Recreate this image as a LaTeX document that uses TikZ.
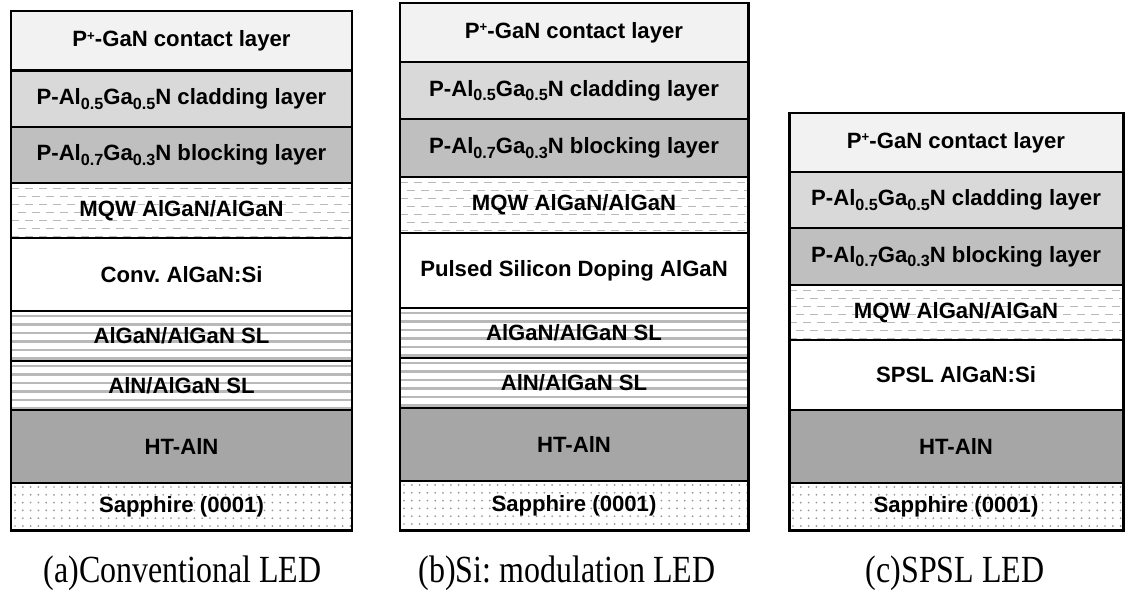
\documentclass[tikz,border=0pt]{standalone}
\usepackage{fontspec}
\setmainfont{Liberation Serif}
\setsansfont{Liberation Sans}
\frenchspacing
\definecolor{ccontact}{RGB}{242,242,242}
\definecolor{cclad}{RGB}{217,217,217}
\definecolor{cblock}{RGB}{191,191,191}
\definecolor{cht}{RGB}{166,166,166}
\definecolor{cpat}{RGB}{185,185,185}
\definecolor{cdot}{RGB}{150,150,150}
\newcommand\lsub[1]{\raisebox{-2.6pt}{\fontsize{9.2}{10}\selectfont #1}}
\newcommand\lsup[1]{\raisebox{3.6pt}{\fontsize{7.5}{8}\selectfont #1}}
\newcommand\band[5]{\fill[#5] (#1,#2) rectangle (#3,#4);}
\newcommand\mqwfill[4]{%
  \begin{scope}
    \clip (#1,#2) rectangle (#3,#4);
    \foreach \k in {0,...,7}{%
      \pgfmathsetmacro\yy{#2+5+8*\k}%
      \pgfmathsetmacro\ph{mod(\k,2)*4}%
      \draw[mqwline, dash phase=\ph pt] (#1,\yy) -- (#3,\yy);
    }
  \end{scope}}
\newcommand\slfill[4]{%
  \begin{scope}
    \clip (#1,#2) rectangle (#3,#4);
    \foreach \k in {0,...,6}{%
      \pgfmathsetmacro\yy{#2+5+8.5*\k}%
      \draw[slline] (#1,\yy) -- (#3,\yy);
    }
  \end{scope}}
\newcommand\sapphfill[4]{%
  \begin{scope}
    \clip (#1,#2) rectangle (#3,#4);
    \foreach \i in {0,...,44}{%
      \foreach \j in {0,...,6}{%
        \pgfmathsetmacro\xx{#1+4+7.8*\i}%
        \pgfmathsetmacro\yy{#2+4+7.8*\j}%
        \fill[cdot] (\xx,\yy) circle (0.55pt);
      }
    }
  \end{scope}}
\begin{document}
\begin{tikzpicture}[x=0.02cm,y=-0.02cm,
  lbl/.style={font=\sffamily\bfseries\fontsize{12.6}{15}\selectfont, inner sep=0pt},
  captxt/.style={font=\fontsize{18.2}{22}\selectfont, inner sep=0pt, anchor=base},
  sepline/.style={line width=1.5pt},
  frameline/.style={line width=1.7pt},
  mqwline/.style={draw=cpat, line width=0.55pt, dash pattern=on 4.5pt off 3.5pt},
  slline/.style={draw=cpat, line width=1.2pt}]
\useasboundingbox (0,0) rectangle (1126,592);

% ---------- stack (a) ----------
\band{11}{11}{352}{70.5}{ccontact}
\band{11}{70.5}{352}{127}{cclad}
\band{11}{127}{352}{183}{cblock}
\band{11}{183}{352}{238}{white}
\mqwfill{11}{183}{352}{238}
\band{11}{238}{352}{311}{white}
\slfill{11}{311}{352}{361}
\slfill{11}{361}{352}{410}
\band{11}{410}{352}{483}{cht}
\sapphfill{11}{483}{352}{530}
\foreach \yy in {70.5,127,183,238,311,361,410,483}{\draw[sepline] (11,\yy) -- (352,\yy);}
\draw[frameline] (11,11) rectangle (352,530);

% ---------- stack (b) ----------
\band{400}{3}{748}{62}{ccontact}
\band{400}{62}{748}{119}{cclad}
\band{400}{119}{748}{177}{cblock}
\mqwfill{400}{177}{748}{233}
\slfill{400}{308}{748}{358}
\slfill{400}{358}{748}{408}
\band{400}{408}{748}{481}{cht}
\sapphfill{400}{481}{748}{530}
\foreach \yy in {62,119,177,233,308,358,408,481}{\draw[sepline] (400,\yy) -- (748,\yy);}
\draw[frameline] (400,3) rectangle (748,530);

% ---------- stack (c) ----------
\band{789}{113}{1123}{172}{ccontact}
\band{789}{172}{1123}{228}{cclad}
\band{789}{228}{1123}{285}{cblock}
\mqwfill{789}{285}{1123}{340}
\band{789}{410}{1123}{483}{cht}
\sapphfill{789}{483}{1123}{530}
\foreach \yy in {172,228,285,340,410,483}{\draw[sepline] (789,\yy) -- (1123,\yy);}
\draw[frameline] (789,113) rectangle (1123,530);

% ---------- labels (a) ----------
\node[lbl] (a1) at (181.5,41) {P\lsup{+}-GaN contact layer};
\node[lbl] (a2) at (181.5,99) {P-Al\lsub{0.5}Ga\lsub{0.5}N cladding layer};
\node[lbl] (a3) at (181.5,155) {P-Al\lsub{0.7}Ga\lsub{0.3}N blocking layer};
\node[lbl] (a4) at (181.5,210.5) {MQW AlGaN/AlGaN};
\node[lbl] (a5) at (181.5,274.5) {Conv. AlGaN:Si};
\node[lbl] (a6) at (181.5,336) {AlGaN/AlGaN SL};
\node[lbl] (a7) at (181.5,385.5) {AlN/AlGaN SL};
\node[lbl] (a8) at (181.5,446.5) {HT-AlN};
\node[lbl] (a9) at (181.5,506.5) {Sapphire (0001)};

% ---------- labels (b) ----------
\node[lbl] (b1) at (574,32.5) {P\lsup{+}-GaN contact layer};
\node[lbl] (b2) at (574,90.5) {P-Al\lsub{0.5}Ga\lsub{0.5}N cladding layer};
\node[lbl] (b3) at (574,148) {P-Al\lsub{0.7}Ga\lsub{0.3}N blocking layer};
\node[lbl] (b4) at (574,205) {MQW AlGaN/AlGaN};
\node[lbl] (b5) at (574,270.5) {Pulsed Silicon Doping AlGaN};
\node[lbl] (b6) at (574,333) {AlGaN/AlGaN SL};
\node[lbl] (b7) at (574,383) {AlN/AlGaN SL};
\node[lbl] (b8) at (574,444.5) {HT-AlN};
\node[lbl] (b9) at (574,505.5) {Sapphire (0001)};

% ---------- labels (c) ----------
\node[lbl] (c1) at (956,142.5) {P\lsup{+}-GaN contact layer};
\node[lbl] (c2) at (956,200) {P-Al\lsub{0.5}Ga\lsub{0.5}N cladding layer};
\node[lbl] (c3) at (956,256.5) {P-Al\lsub{0.7}Ga\lsub{0.3}N blocking layer};
\node[lbl] (c4) at (956,312.5) {MQW AlGaN/AlGaN};
\node[lbl] (c5) at (956,375) {SPSL AlGaN:Si};
\node[lbl] (c6) at (956,446.5) {HT-AlN};
\node[lbl] (c7) at (956,506.5) {Sapphire (0001)};

% ---------- captions ----------
\node[captxt] (capa) at (182.5,582) {\scalebox{1}[1.2]{(a)Conventional LED}};
\node[captxt] (capb) at (567,582) {\scalebox{1}[1.2]{(b)Si: modulation LED}};
\node[captxt] (capc) at (955,582) {\scalebox{1}[1.2]{(c)SPSL LED}};
\end{tikzpicture}
\end{document}
